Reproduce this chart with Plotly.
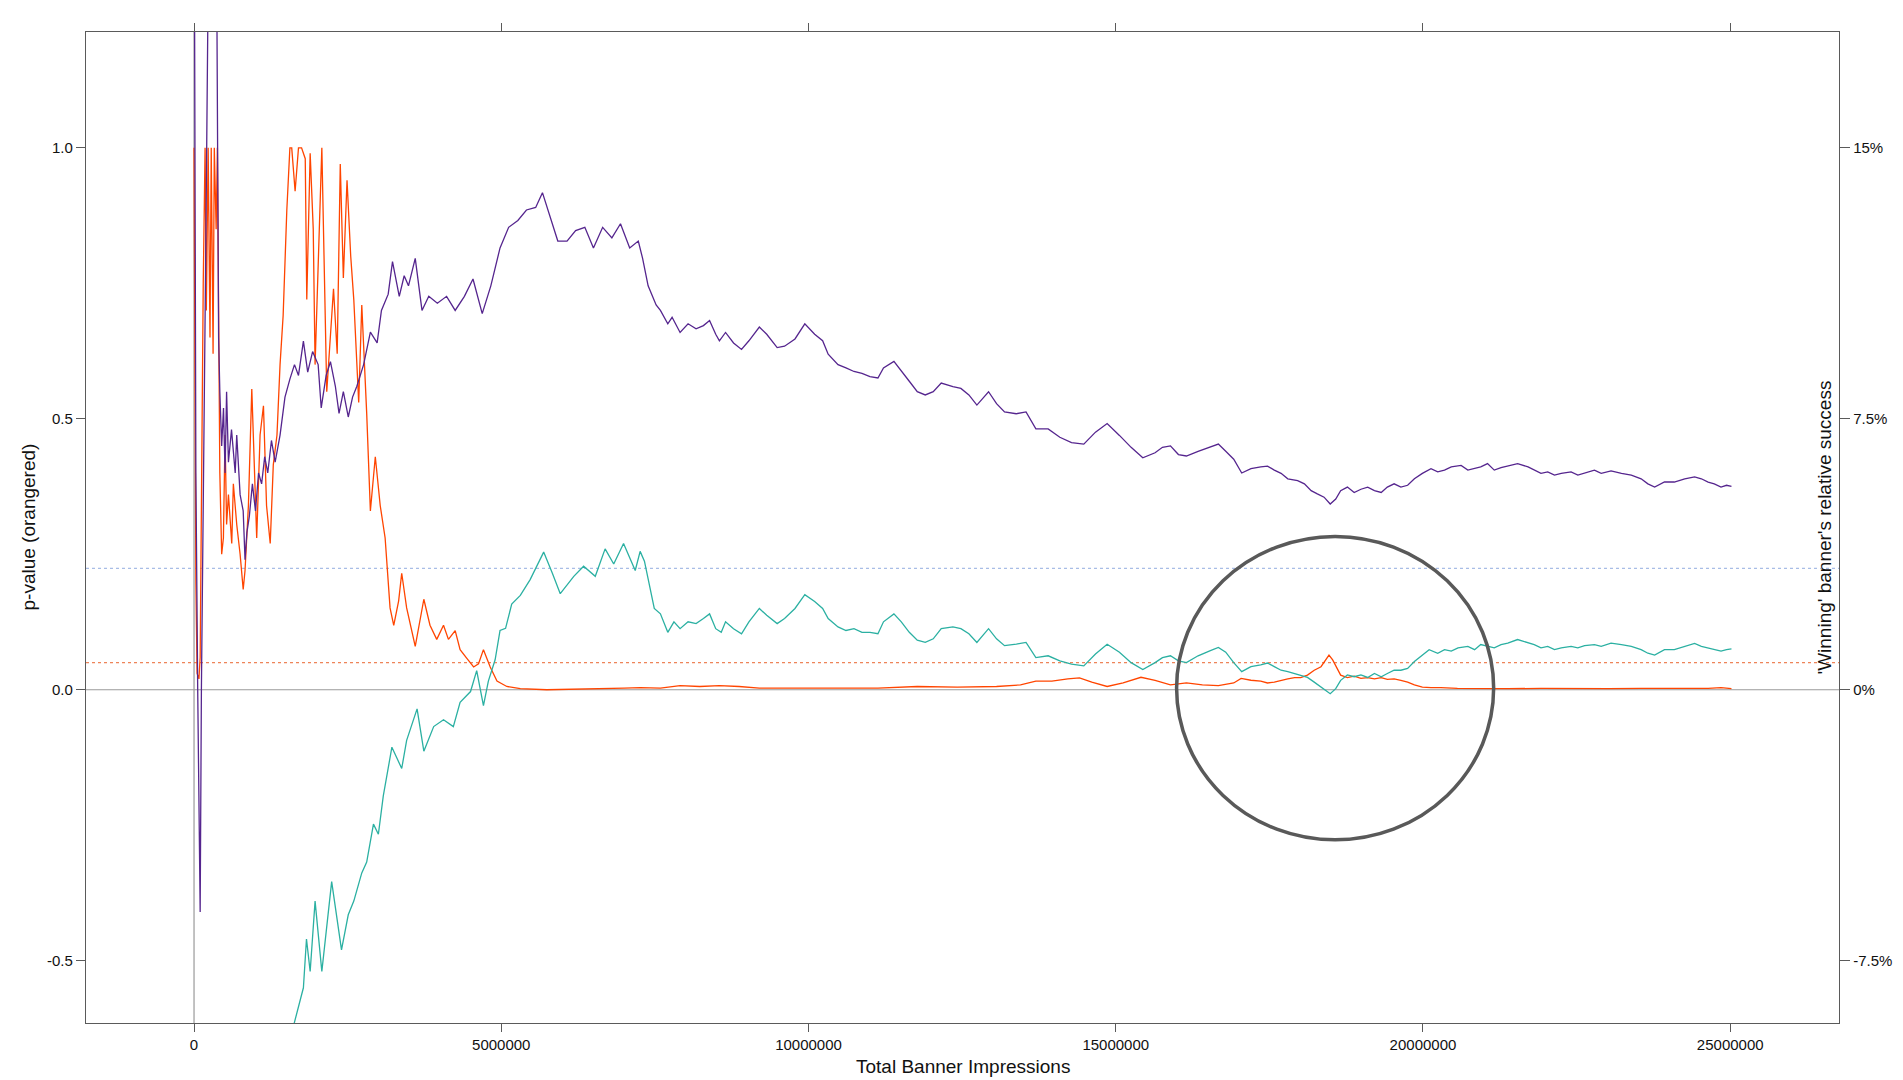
import plotly.graph_objects as go

# ---- data -------------------------------------------------------------
# p-value of the banner test (left axis), x in millions of impressions
pvalue_x_m = [0.00, 0.01, 0.03, 0.05, 0.08, 0.10, 0.12, 0.15, 0.18, 0.20,
              0.23, 0.26, 0.28, 0.31, 0.33, 0.36, 0.38, 0.40, 0.42, 0.45,
              0.478, 0.505, 0.53, 0.56, 0.614, 0.64, 0.695, 0.75, 0.80, 0.83,
              0.885, 0.94, 0.99, 1.02, 1.075, 1.13, 1.18, 1.24, 1.29, 1.35,
              1.40, 1.45, 1.51, 1.56, 1.59, 1.645, 1.70, 1.75, 1.81, 1.835,
              1.89, 1.94, 1.97, 2.02, 2.08, 2.16, 2.22, 2.27, 2.33, 2.38,
              2.43, 2.49, 2.55, 2.60, 2.68, 2.73, 2.81, 2.87, 2.95, 3.03,
              3.11, 3.19, 3.25, 3.33, 3.38, 3.46, 3.60, 3.74, 3.84, 3.95,
              4.06, 4.14, 4.25, 4.33, 4.44, 4.55, 4.63, 4.71, 4.82, 4.93,
              5.09, 5.31, 5.74, 6.50, 7.00, 7.26, 7.59, 7.91, 8.23, 8.55,
              8.87, 9.20, 9.84, 10.48, 11.13, 11.77, 12.42, 13.06, 13.45, 13.70,
              13.96, 14.22, 14.41, 14.61, 14.86, 15.12, 15.41, 15.64, 15.89, 16.15,
              16.41, 16.67, 16.92, 17.04, 17.20, 17.36, 17.47, 17.58, 17.69, 17.80,
              17.91, 18.01, 18.12, 18.23, 18.34, 18.42, 18.47, 18.53, 18.61, 18.66,
              18.77, 18.88, 18.99, 19.10, 19.21, 19.32, 19.42, 19.53, 19.64, 19.75,
              19.86, 19.99, 20.13, 20.29, 20.56, 20.84, 21.16, 21.38, 21.92, 22.46,
              23.01, 23.55, 24.09, 24.64, 24.85, 25.02]
pvalue = [1.0, 0.6, 0.2, 0.03, 0.02, 0.06, 0.35, 0.75, 1.0, 0.7,
          1.0, 0.65, 1.0, 0.62, 1.0, 0.85, 1.0, 0.7, 0.4, 0.25,
          0.28, 0.47, 0.305, 0.36, 0.27, 0.38, 0.305, 0.25, 0.185, 0.22,
          0.34, 0.555, 0.40, 0.28, 0.47, 0.524, 0.34, 0.27, 0.415, 0.47,
          0.60, 0.69, 0.885, 1.0, 1.0, 0.92, 1.0, 1.0, 0.98, 0.72,
          0.99, 0.85, 0.6, 0.8, 1.0, 0.55, 0.65, 0.74, 0.62, 0.97,
          0.76, 0.94, 0.8, 0.72, 0.53, 0.71, 0.51, 0.33, 0.43, 0.34,
          0.28, 0.151, 0.119, 0.164, 0.215, 0.151, 0.08, 0.167, 0.119, 0.093,
          0.119, 0.093, 0.109, 0.074, 0.058, 0.042, 0.048, 0.074, 0.042, 0.016,
          0.006, 0.002, 0.0, 0.001, 0.003, 0.004, 0.003, 0.0075, 0.006, 0.0075,
          0.006, 0.003, 0.003, 0.004, 0.003, 0.006, 0.005, 0.006, 0.009, 0.016,
          0.016, 0.02, 0.022, 0.014, 0.006, 0.0125, 0.023, 0.0175, 0.009, 0.0125,
          0.009, 0.0075, 0.0125, 0.021, 0.0175, 0.016, 0.0125, 0.014, 0.0175, 0.02,
          0.0225, 0.0225, 0.027, 0.036, 0.0425, 0.055, 0.064, 0.055, 0.036, 0.027,
          0.0225, 0.025, 0.021, 0.0225, 0.02, 0.0225, 0.019, 0.02, 0.0175, 0.014,
          0.009, 0.005, 0.004, 0.004, 0.0025, 0.002, 0.002, 0.002, 0.0025, 0.002,
          0.002, 0.0025, 0.002, 0.0025, 0.004, 0.002]

# 'winning' banner's relative success, in percent (right axis)
success_x_m = [0.00, 0.03, 0.06, 0.10, 0.12, 0.15, 0.19, 0.23, 0.30, 0.37,
               0.40, 0.42, 0.45, 0.48, 0.505, 0.53, 0.56, 0.61, 0.67, 0.695,
               0.75, 0.80, 0.83, 0.86, 0.90, 0.95, 1.00, 1.05, 1.10, 1.15,
               1.20, 1.26, 1.32, 1.40, 1.48, 1.56, 1.635, 1.70, 1.78, 1.85,
               1.93, 2.02, 2.07, 2.15, 2.22, 2.30, 2.36, 2.43, 2.51, 2.58,
               2.65, 2.76, 2.87, 2.98, 3.05, 3.16, 3.23, 3.34, 3.42, 3.49,
               3.60, 3.71, 3.82, 3.96, 4.11, 4.25, 4.40, 4.54, 4.69, 4.83,
               4.98, 5.12, 5.27, 5.41, 5.56, 5.67, 5.78, 5.92, 6.07, 6.21,
               6.36, 6.50, 6.65, 6.80, 6.94, 7.09, 7.23, 7.30, 7.39, 7.52,
               7.59, 7.71, 7.78, 7.91, 8.04, 8.17, 8.29, 8.39, 8.49, 8.55,
               8.65, 8.78, 8.91, 9.03, 9.20, 9.32, 9.49, 9.61, 9.78, 9.94,
               10.10, 10.23, 10.32, 10.48, 10.61, 10.74, 10.87, 11.00, 11.13, 11.22,
               11.39, 11.51, 11.64, 11.77, 11.90, 12.03, 12.16, 12.35, 12.48, 12.61,
               12.74, 12.93, 13.06, 13.19, 13.38, 13.54, 13.70, 13.90, 14.09, 14.28,
               14.48, 14.67, 14.86, 15.06, 15.25, 15.44, 15.64, 15.76, 15.89, 16.02,
               16.15, 16.34, 16.54, 16.67, 16.79, 16.92, 17.05, 17.20, 17.36, 17.47,
               17.58, 17.69, 17.80, 17.96, 18.07, 18.18, 18.28, 18.39, 18.49, 18.58,
               18.66, 18.77, 18.88, 18.99, 19.10, 19.21, 19.32, 19.42, 19.53, 19.64,
               19.75, 19.86, 19.99, 20.13, 20.24, 20.35, 20.46, 20.62, 20.73, 20.84,
               20.94, 21.05, 21.16, 21.27, 21.38, 21.54, 21.71, 21.81, 21.92, 22.03,
               22.14, 22.25, 22.41, 22.52, 22.63, 22.79, 22.90, 23.06, 23.23, 23.39,
               23.55, 23.66, 23.77, 23.93, 24.09, 24.26, 24.42, 24.53, 24.64, 24.74,
               24.85, 24.94, 25.02]
success_pct = [24.0, 6.0, 0.0, -6.15, 0.0, 6.0, 12.0, 19.5, 24.0, 19.5,
               9.75, 8.25, 6.75, 7.8, 6.0, 8.25, 6.3, 7.2, 6.0, 7.05,
               5.4, 4.95, 3.6, 4.35, 4.8, 5.7, 4.95, 6.0, 5.7, 6.45,
               6.0, 6.9, 6.3, 7.05, 8.1, 8.6, 9.0, 8.7, 9.65, 8.79,
               9.36, 9.0, 7.8, 8.7, 9.08, 8.4, 7.65, 8.25, 7.55, 8.1,
               8.4, 9.0, 9.9, 9.6, 10.5, 10.95, 11.85, 10.89, 11.46, 11.18,
               11.94, 10.5, 10.89, 10.7, 10.89, 10.5, 10.89, 11.37, 10.41, 11.18,
               12.23, 12.8, 12.99, 13.28, 13.35, 13.76, 13.19, 12.42, 12.42, 12.71,
               12.8, 12.23, 12.8, 12.51, 12.9, 12.23, 12.42, 11.94, 11.18, 10.65,
               10.5, 10.13, 10.31, 9.89, 10.13, 9.99, 10.08, 10.22, 9.84, 9.66,
               9.89, 9.6, 9.42, 9.66, 10.04, 9.84, 9.47, 9.51, 9.71, 10.13,
               9.84, 9.66, 9.29, 9.0, 8.91, 8.81, 8.76, 8.67, 8.63, 8.91,
               9.09, 8.81, 8.54, 8.25, 8.16, 8.25, 8.49, 8.39, 8.34, 8.16,
               7.88, 8.25, 7.92, 7.69, 7.64, 7.69, 7.22, 7.22, 6.99, 6.84,
               6.80, 7.13, 7.37, 7.04, 6.71, 6.42, 6.56, 6.71, 6.75, 6.51,
               6.47, 6.6, 6.71, 6.80, 6.6, 6.38, 6.0, 6.12, 6.17, 6.19,
               6.08, 5.99, 5.84, 5.79, 5.7, 5.51, 5.42, 5.33, 5.14, 5.28,
               5.51, 5.61, 5.46, 5.55, 5.61, 5.51, 5.46, 5.61, 5.7, 5.61,
               5.66, 5.84, 5.99, 6.12, 6.03, 6.08, 6.17, 6.21, 6.08, 6.12,
               6.17, 6.26, 6.08, 6.15, 6.19, 6.26, 6.17, 6.08, 5.99, 6.03,
               5.94, 5.99, 6.03, 5.94, 5.99, 6.08, 5.99, 6.06, 5.99, 5.94,
               5.84, 5.7, 5.61, 5.75, 5.75, 5.84, 5.89, 5.84, 5.75, 5.7,
               5.61, 5.66, 5.63]

# lower bound of the relative success, in percent (right axis)
lower_x_m = [1.50, 1.62, 1.78, 1.83, 1.89, 1.97, 2.08, 2.24, 2.40, 2.51,
             2.60, 2.73, 2.81, 2.92, 3.00, 3.08, 3.22, 3.38, 3.46, 3.63,
             3.74, 3.90, 4.06, 4.22, 4.33, 4.50, 4.60, 4.71, 4.79, 4.90,
             4.98, 5.07, 5.17, 5.31, 5.47, 5.69, 5.83, 5.96, 6.18, 6.34,
             6.53, 6.69, 6.83, 6.99, 7.18, 7.26, 7.33, 7.39, 7.49, 7.59,
             7.71, 7.81, 7.91, 8.04, 8.17, 8.29, 8.39, 8.49, 8.58, 8.65,
             8.78, 8.91, 9.03, 9.20, 9.32, 9.49, 9.61, 9.78, 9.94, 10.10,
             10.23, 10.32, 10.48, 10.61, 10.74, 10.87, 11.00, 11.13, 11.22, 11.39,
             11.51, 11.64, 11.77, 11.90, 12.03, 12.16, 12.35, 12.48, 12.61, 12.74,
             12.93, 13.06, 13.19, 13.38, 13.54, 13.70, 13.90, 14.09, 14.28, 14.48,
             14.67, 14.86, 15.06, 15.25, 15.44, 15.64, 15.76, 15.89, 16.02, 16.15,
             16.34, 16.54, 16.67, 16.79, 16.92, 17.05, 17.20, 17.36, 17.47, 17.58,
             17.69, 17.80, 17.91, 18.01, 18.12, 18.23, 18.34, 18.49, 18.58, 18.66,
             18.77, 18.88, 18.99, 19.10, 19.21, 19.32, 19.42, 19.53, 19.64, 19.75,
             19.86, 19.99, 20.10, 20.24, 20.35, 20.46, 20.57, 20.73, 20.84, 20.94,
             21.05, 21.16, 21.27, 21.38, 21.54, 21.71, 21.81, 21.92, 22.03, 22.14,
             22.25, 22.41, 22.52, 22.63, 22.79, 22.90, 23.06, 23.23, 23.39, 23.55,
             23.66, 23.77, 23.93, 24.09, 24.26, 24.42, 24.53, 24.64, 24.74, 24.85,
             24.94, 25.02]
lower_pct = [-10.5, -9.3, -8.25, -6.9, -7.8, -5.85, -7.8, -5.31, -7.2, -6.23,
             -5.85, -5.07, -4.77, -3.72, -4.0, -2.94, -1.59, -2.18, -1.40, -0.53,
             -1.70, -1.02, -0.83, -1.02, -0.35, -0.05, 0.53, -0.44, 0.24, 0.83,
             1.64, 1.70, 2.37, 2.61, 3.05, 3.81, 3.23, 2.66, 3.14, 3.42,
             3.14, 3.9, 3.48, 4.05, 3.3, 3.83, 3.56, 3.09, 2.25, 2.1,
             1.59, 1.88, 1.69, 1.88, 1.83, 1.97, 2.1, 1.69, 1.59, 1.88,
             1.69, 1.55, 1.88, 2.25, 2.06, 1.83, 1.97, 2.25, 2.63, 2.44,
             2.25, 1.97, 1.74, 1.64, 1.69, 1.59, 1.59, 1.55, 1.88, 2.1,
             1.88, 1.59, 1.37, 1.31, 1.41, 1.69, 1.74, 1.69, 1.55, 1.31,
             1.69, 1.41, 1.22, 1.26, 1.31, 0.89, 0.94, 0.80, 0.71, 0.66,
             0.99, 1.26, 1.04, 0.75, 0.56, 0.75, 0.89, 0.94, 0.80, 0.75,
             0.94, 1.08, 1.17, 1.04, 0.75, 0.50, 0.64, 0.69, 0.74, 0.64,
             0.54, 0.50, 0.45, 0.41, 0.34, 0.21, 0.08, -0.11, 0.03, 0.26,
             0.41, 0.36, 0.41, 0.34, 0.45, 0.36, 0.45, 0.54, 0.54, 0.59,
             0.78, 0.96, 1.11, 1.01, 1.11, 1.07, 1.16, 1.2, 1.11, 1.25,
             1.2, 1.16, 1.25, 1.29, 1.39, 1.29, 1.25, 1.16, 1.2, 1.11,
             1.16, 1.2, 1.16, 1.22, 1.25, 1.2, 1.29, 1.25, 1.2, 1.11,
             1.01, 0.96, 1.11, 1.11, 1.2, 1.28, 1.2, 1.16, 1.11, 1.07,
             1.11, 1.13]

# reference levels on the p-value axis
significance_level = 0.05
upper_reference = 0.224

# axis ticks
x_ticks = [0, 5000000, 10000000, 15000000, 20000000, 25000000]
x_tick_labels = ["0", "5000000", "10000000", "15000000", "20000000", "25000000"]
p_ticks = [-0.5, 0.0, 0.5, 1.0]
p_tick_labels = ["-0.5", "0.0", "0.5", "1.0"]
pct_ticks = [-7.5, 0.0, 7.5, 15.0]
pct_tick_labels = ["-7.5%", "0%", "7.5%", "15%"]

# highlighted region (ellipse) in data units
highlight_x = (15.99e6, 21.15e6)
highlight_y = (-0.277, 0.283)

# ---- styling --------------------------------------------------------
ORANGE = "#ff4500"
PURPLE = "#55258e"
TEAL = "#2bb0a2"
FRAME = "#5a5a5a"
FONT = "Liberation Sans, Arial, Helvetica, sans-serif"

W, H = 1903, 1080
M_L, M_R, M_T, M_B = 86, 64, 32, 57
P_RANGE = [-0.615, 1.2138]
PCT_PER_P = 15.0  # 1.0 on the p-value axis lines up with 15% on the right axis
X_RANGE = [-1.758e6, 26.77e6]


def to_impressions(values_m):
    return [v * 1e6 for v in values_m]


fig = go.Figure()

fig.add_trace(go.Scatter(
    x=to_impressions(success_x_m), y=success_pct, yaxis="y2",
    mode="lines", line=dict(color=PURPLE, width=1.3), name="relative success",
))
fig.add_trace(go.Scatter(
    x=to_impressions(lower_x_m), y=lower_pct, yaxis="y2",
    mode="lines", line=dict(color=TEAL, width=1.3), name="lower bound",
))
fig.add_trace(go.Scatter(
    x=to_impressions(pvalue_x_m), y=pvalue, yaxis="y",
    mode="lines", line=dict(color=ORANGE, width=1.3), name="p-value",
))

shapes = [
    # zero reference and origin line
    dict(type="line", xref="paper", yref="y", x0=0, x1=1, y0=0, y1=0,
         line=dict(color="#9a9a9a", width=1.2), layer="below"),
    dict(type="line", xref="x", yref="paper", x0=0, x1=0, y0=0, y1=1,
         line=dict(color="#9a9a9a", width=1.2), layer="below"),
    # dotted reference levels
    dict(type="line", xref="paper", yref="y", x0=0, x1=1,
         y0=upper_reference, y1=upper_reference,
         line=dict(color="#a8bde6", width=1.3, dash="dot"), layer="below"),
    dict(type="line", xref="paper", yref="y", x0=0, x1=1,
         y0=significance_level, y1=significance_level,
         line=dict(color="rgba(235,110,60,0.85)", width=1.3, dash="dot"), layer="below"),
    # highlight ellipse
    dict(type="circle", xref="x", yref="y",
         x0=highlight_x[0], x1=highlight_x[1], y0=highlight_y[0], y1=highlight_y[1],
         line=dict(color="#595959", width=3.5), layer="above"),
]

plot_w = W - M_L - M_R
plot_h = H - M_T - M_B

annotations = [
    # x-axis title, kept just inside the bottom edge of the page
    dict(text="Total Banner Impressions", xref="paper", yref="paper",
         x=0.5, y=(H - M_B - 1079) / plot_h, xanchor="center", yanchor="bottom",
         showarrow=False, font=dict(family=FONT, size=19, color="#111111")),
    dict(text="p-value (orangered)", xref="paper", yref="paper",
         x=(28 - M_L) / plot_w, y=0.5, xanchor="center", yanchor="middle",
         textangle=-90, showarrow=False,
         font=dict(family=FONT, size=19, color="#111111")),
    dict(text="'Winning' banner's relative success", xref="paper", yref="paper",
         x=(1824 - M_L) / plot_w, y=0.5, xanchor="center", yanchor="middle",
         textangle=-90, showarrow=False,
         font=dict(family=FONT, size=19, color="#111111")),
]

axis_common = dict(
    showgrid=False, zeroline=False, showline=True, linecolor=FRAME, linewidth=1.3,
    ticks="outside", tickcolor=FRAME, tickwidth=1.2,
    tickfont=dict(family=FONT, size=15, color="#111111"),
)

fig.update_layout(
    width=W, height=H,
    margin=dict(l=M_L, r=M_R, t=M_T, b=M_B, pad=0),
    paper_bgcolor="white", plot_bgcolor="white",
    showlegend=False,
    xaxis=dict(range=X_RANGE, tickvals=x_ticks, ticktext=x_tick_labels,
               ticklen=8, mirror="ticks", **axis_common),
    yaxis=dict(range=P_RANGE, tickvals=p_ticks, ticktext=p_tick_labels,
               ticklen=9, mirror=True, **axis_common),
    yaxis2=dict(range=[P_RANGE[0] * PCT_PER_P, P_RANGE[1] * PCT_PER_P],
                tickvals=pct_ticks, ticktext=pct_tick_labels,
                overlaying="y", side="right", ticklen=10, **axis_common),
    shapes=shapes,
    annotations=annotations,
)

fig.write_html("out.html", config={"displayModeBar": False})
